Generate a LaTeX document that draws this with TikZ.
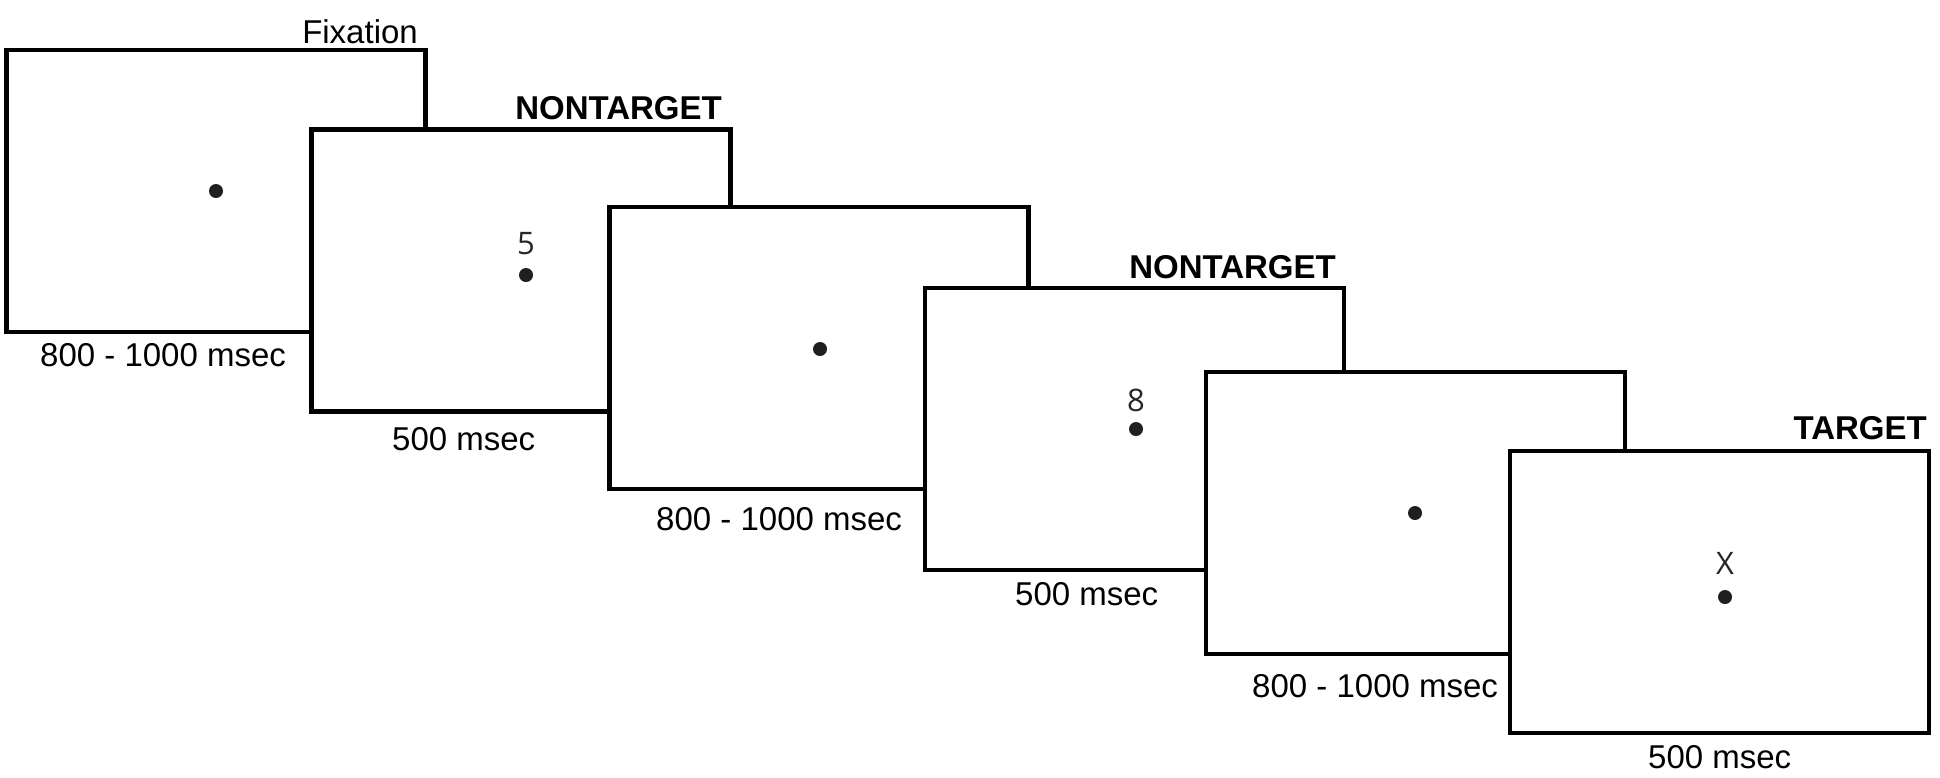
\documentclass[tikz,border=0pt]{standalone}
\usepackage{fontspec}
\setmainfont{Liberation Sans}
\newfontfamily\stimfont{Open Sans}
\begin{document}
\begin{tikzpicture}[x=1pt,y=-1pt,
  screen/.style={draw=black, fill=white, line width=4.5pt, rectangle, minimum width=419pt, minimum height=282pt, inner sep=0pt},
  dot/.style={circle, fill=black!88, minimum size=14pt, inner sep=0pt},
  lbl/.style={font=\fontsize{33}{36}\selectfont, inner sep=0pt},
  title/.style={font=\fontsize{33}{36}\selectfont\bfseries, inner sep=0pt, anchor=base east},
  stim/.style={font=\stimfont\fontsize{31}{34}\selectfont, inner sep=0pt, anchor=base, text=black!85}
]
\useasboundingbox[fill=white] (0,0) rectangle (1940,777);
% screens
\node[screen] (s1) at (216,191) {};
\node[screen] (s2) at (521,270.5) {};
\node[screen] (s3) at (819,348) {};
\node[screen] (s4) at (1134.5,429) {};
\node[screen] (s5) at (1415.5,513) {};
\node[screen] (s6) at (1719.5,592) {};
% fixation dots
\node[dot] (d1) at (216,191) {};
\node[dot] (d2) at (526,275) {};
\node[dot] (d3) at (820,349) {};
\node[dot] (d4) at (1136,429) {};
\node[dot] (d5) at (1415,513) {};
\node[dot] (d6) at (1725,597) {};
% stimuli
\node[stim] (n5) at (526,254) {5};
\node[stim] (n8) at (1136,411) {8};
\node[stim] (nx) at (1725,574) {X};
% titles
\node[lbl, anchor=base east] (t1) at (418,43) {Fixation};
\node[title] (t2) at (722,119) {NONTARGET};
\node[title] (t4) at (1336,278) {NONTARGET};
\node[title] (t6) at (1927,439) {TARGET};
% durations
\node[lbl, anchor=base west] (m1) at (40,366) {800 - 1000 msec};
\node[lbl, anchor=base west] (m2) at (392,450) {500 msec};
\node[lbl, anchor=base west] (m3) at (656,530) {800 - 1000 msec};
\node[lbl, anchor=base west] (m4) at (1015,605) {500 msec};
\node[lbl, anchor=base west] (m5) at (1252,697) {800 - 1000 msec};
\node[lbl, anchor=base west] (m6) at (1648,768) {500 msec};
\end{tikzpicture}
\end{document}
